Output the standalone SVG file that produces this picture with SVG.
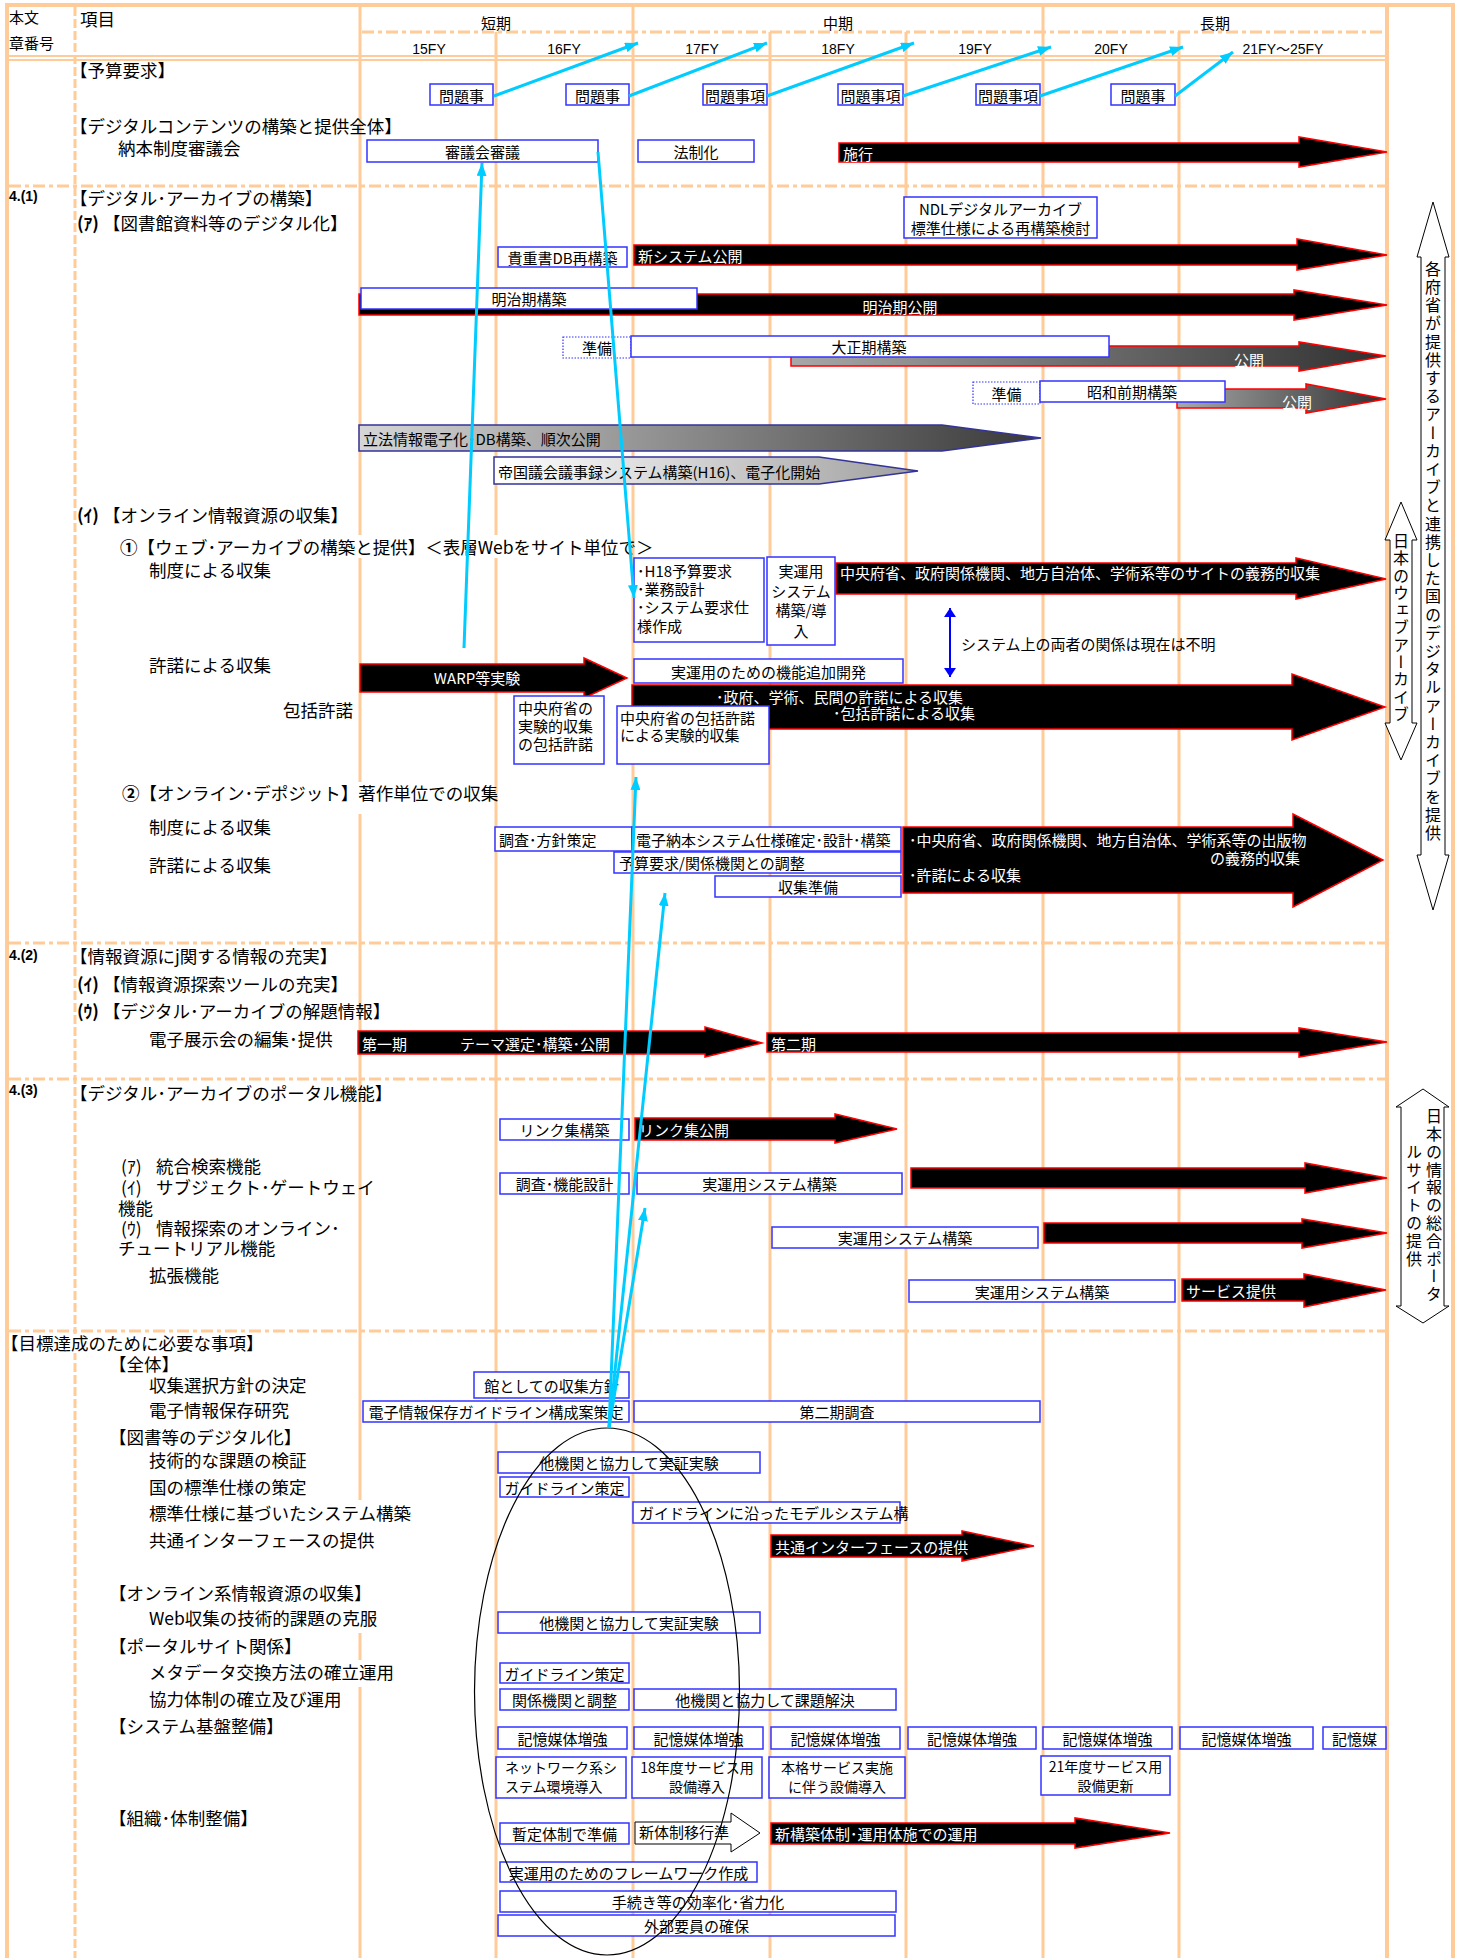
<svg xmlns="http://www.w3.org/2000/svg" width="1461" height="1958" viewBox="0 0 1461 1958">
<defs>
<style>
text{font-family:"Noto Sans CJK JP","Noto Sans",sans-serif;dominant-baseline:central;fill:#000}
.l{font-size:17.5px}
.b{font-size:15px}
.s{font-size:14px}
.w{font-size:15px;fill:#fff}
.c{text-anchor:middle}
.e{text-anchor:end}
.bx{fill:#fff;stroke:#3333ff;stroke-width:1.5}
.bd{fill:#fff;stroke:#3333ff;stroke-width:1.2;stroke-dasharray:1.5 1.5}
.ba{fill:#000;stroke:#ff0000;stroke-width:1.5}
.g{stroke:#ffcc99;stroke-width:3;fill:none}
.gb{stroke:#ffcc99;stroke-width:4;fill:none}
.g2{stroke:#ffcc99;stroke-width:2;fill:none}
.dd{stroke:#ffcc99;stroke-width:3;fill:none;stroke-dasharray:12 4 4 4}
.dv{stroke:#ffcc99;stroke-width:3;fill:none;stroke-dasharray:9 3}
.cy{stroke:#00ccff;stroke-width:3;fill:none;marker-end:url(#ac)}
.va{fill:#fff;stroke:#000;stroke-width:1}
.n{font-family:"Liberation Sans",sans-serif;font-size:14px;font-weight:bold}
.fy{font-family:"Liberation Sans","Noto Sans CJK JP",sans-serif;font-size:14px;text-anchor:middle}
.vt{font-size:16px;writing-mode:vertical-rl;text-anchor:middle}
.wb{fill:#fff;stroke:none}
</style>
<marker id="ac" markerWidth="13" markerHeight="10" refX="13" refY="5" orient="auto" markerUnits="userSpaceOnUse"><path d="M0,0 L13,5 L0,10 z" fill="#00ccff"/></marker>
<marker id="ab" markerWidth="9" markerHeight="12" refX="9" refY="6" orient="auto-start-reverse" markerUnits="userSpaceOnUse"><path d="M0,0 L9,6 L0,12 z" fill="#0000ff"/></marker>
<linearGradient id="gT" x1="0" y1="0" x2="1" y2="0"><stop offset="0" stop-color="#a8a8a8"/><stop offset="1" stop-color="#303030"/></linearGradient>
<linearGradient id="gR" x1="0" y1="0" x2="1" y2="0"><stop offset="0" stop-color="#d6d6d6"/><stop offset="1" stop-color="#383838"/></linearGradient>
<linearGradient id="gK" x1="0" y1="0" x2="1" y2="0"><stop offset="0" stop-color="#ffffff"/><stop offset="1" stop-color="#a0a0a0"/></linearGradient>
</defs>
<rect x="0" y="0" width="1461" height="1958" fill="#fff"/>

<g id="grid">
<line class="gb" x1="5" y1="5" x2="1455" y2="5"/>
<line class="gb" x1="7" y1="3" x2="7" y2="1958"/>
<line class="gb" x1="1387" y1="3" x2="1387" y2="1958"/>
<line class="gb" x1="1453" y1="3" x2="1453" y2="1958"/>
<line class="dv" x1="75" y1="7" x2="75" y2="1958"/>
<line class="g" x1="360" y1="5" x2="360" y2="1958"/>
<line class="g" x1="633" y1="5" x2="633" y2="1958"/>
<line class="g" x1="1043" y1="5" x2="1043" y2="1958"/>
<line class="g" x1="496" y1="32" x2="496" y2="1958"/>
<line class="g" x1="770" y1="32" x2="770" y2="1958"/>
<line class="g" x1="906" y1="32" x2="906" y2="1958"/>
<line class="g" x1="1179" y1="32" x2="1179" y2="1958"/>
<line class="dd" x1="362" y1="32" x2="1385" y2="32"/>
<line class="g2" x1="7" y1="56" x2="1387" y2="56"/>
<line class="g2" x1="7" y1="60" x2="1387" y2="60"/>
<line class="dd" x1="9" y1="186" x2="1385" y2="186"/>
<line class="dd" x1="9" y1="943" x2="1385" y2="943"/>
<line class="dd" x1="9" y1="1079" x2="1385" y2="1079"/>
<line class="dd" x1="9" y1="1331" x2="1385" y2="1331"/>
</g>

<g id="header">
<text class="b" x="9" y="16">本文</text>
<text class="b" x="9" y="42">章番号</text>
<text class="l" x="80" y="18">項目</text>
<text class="b c" x="496" y="22">短期</text>
<text class="b c" x="838" y="22">中期</text>
<text class="b c" x="1215" y="22">長期</text>
<text class="fy" x="429" y="49">15FY</text>
<text class="fy" x="564" y="49">16FY</text>
<text class="fy" x="702" y="49">17FY</text>
<text class="fy" x="838" y="49">18FY</text>
<text class="fy" x="975" y="49">19FY</text>
<text class="fy" x="1111" y="49">20FY</text>
<text class="fy" x="1283" y="49">21FY～25FY</text>
</g>

<g id="labels">
<rect class="wb" x="116" y="535" width="514" height="23"/>
<rect class="wb" x="118" y="782" width="364" height="32"/>
<rect class="wb" x="9" y="1334" width="262" height="19"/>
<rect class="wb" x="145" y="1500" width="275" height="133"/>
<rect class="wb" x="145" y="1660" width="250" height="27"/>
<text class="l" x="70" y="69">【予算要求】</text>
<text class="l" x="70" y="125">【デジタルコンテンツの構築と提供全体】</text>
<text class="l" x="118" y="147">納本制度審議会</text>
<text class="n" x="9" y="196">4.(1)</text>
<text class="l" x="70" y="197">【デジタル･アーカイブの構築】</text>
<text class="l" x="77" y="222"><tspan font-weight="bold">(ｱ)</tspan> 【図書館資料等のデジタル化】</text>
<text class="l" x="77" y="514"><tspan font-weight="bold">(ｲ)</tspan> 【オンライン情報資源の収集】</text>
<text class="l" x="120" y="546"><tspan font-weight="bold">①</tspan>【ウェブ･アーカイブの構築と提供】＜表層Webをサイト単位で＞</text>
<text class="l" x="149" y="569">制度による収集</text>
<text class="l" x="149" y="664">許諾による収集</text>
<text class="l" x="283" y="709">包括許諾</text>
<text class="l" x="122" y="792"><tspan font-weight="bold">②</tspan>【オンライン･デポジット】著作単位での収集</text>
<text class="l" x="149" y="826">制度による収集</text>
<text class="l" x="149" y="864">許諾による収集</text>
<text class="n" x="9" y="955">4.(2)</text>
<text class="l" x="70" y="955">【情報資源にj関する情報の充実】</text>
<text class="l" x="77" y="983"><tspan font-weight="bold">(ｲ)</tspan> 【情報資源探索ツールの充実】</text>
<text class="l" x="77" y="1010"><tspan font-weight="bold">(ｳ)</tspan> 【デジタル･アーカイブの解題情報】</text>
<text class="l" x="149" y="1038">電子展示会の編集･提供</text>
<text class="n" x="9" y="1090">4.(3)</text>
<text class="l" x="70" y="1092">【デジタル･アーカイブのポータル機能】</text>
<text class="l" x="121" y="1165">(ｱ)<tspan x="156">統合検索機能</tspan></text>
<text class="l" x="121" y="1186">(ｲ)<tspan x="156">サブジェクト･ゲートウェイ</tspan></text>
<text class="l" x="118" y="1207">機能</text>
<text class="l" x="121" y="1227">(ｳ)<tspan x="156">情報探索のオンライン･</tspan></text>
<text class="l" x="118" y="1247">チュートリアル機能</text>
<text class="l" x="149" y="1274">拡張機能</text>
<text class="l" x="1" y="1342">【目標達成のために必要な事項】</text>
<text class="l" x="109" y="1363">【全体】</text>
<text class="l" x="149" y="1384">収集選択方針の決定</text>
<text class="l" x="149" y="1409">電子情報保存研究</text>
<text class="l" x="109" y="1436">【図書等のデジタル化】</text>
<text class="l" x="149" y="1459">技術的な課題の検証</text>
<text class="l" x="149" y="1486">国の標準仕様の策定</text>
<text class="l" x="149" y="1512">標準仕様に基づいたシステム構築</text>
<text class="l" x="149" y="1539">共通インターフェースの提供</text>
<text class="l" x="109" y="1592">【オンライン系情報資源の収集】</text>
<text class="l" x="149" y="1617">Web収集の技術的課題の克服</text>
<text class="l" x="109" y="1645">【ポータルサイト関係】</text>
<text class="l" x="149" y="1671">メタデータ交換方法の確立運用</text>
<text class="l" x="149" y="1698">協力体制の確立及び運用</text>
<text class="l" x="109" y="1725">【システム基盤整備】</text>
<text class="l" x="109" y="1817">【組織･体制整備】</text>
</g>

<g id="budget">
<g id="q1"><rect class="bx" x="430" y="84" width="63" height="21"/><text class="b c" x="461.5" y="95">問題事</text></g>
<g id="q2"><rect class="bx" x="566" y="84" width="63" height="21"/><text class="b c" x="597.5" y="95">問題事</text></g>
<g id="q3"><rect class="bx" x="703" y="84" width="64" height="21"/><text class="b c" x="735" y="95">問題事項</text></g>
<g id="q4"><rect class="bx" x="838" y="84" width="65" height="21"/><text class="b c" x="870.5" y="95">問題事項</text></g>
<g id="q5"><rect class="bx" x="976" y="84" width="64" height="21"/><text class="b c" x="1008" y="95">問題事項</text></g>
<g id="q6"><rect class="bx" x="1111" y="84" width="64" height="21"/><text class="b c" x="1143" y="95">問題事</text></g>
</g>

<g id="n-shingikai"><rect class="bx" x="367" y="140" width="231" height="22"/><text class="b c" x="482.5" y="151">審議会審議</text></g>
<g id="n-hoseika"><rect class="bx" x="638" y="140" width="116" height="22"/><text class="b c" x="696" y="151">法制化</text></g>
<g id="n-shiko"><polygon class="ba" points="839,143 1299,143 1299,137 1387,152 1299,167 1299,162 839,162"/><text class="w" x="843" y="153">施行</text></g>

<g id="n-ndl"><rect class="bx" x="904" y="197" width="193" height="41"/><text class="b c" x="1000.5" y="208">NDLデジタルアーカイブ</text><text class="b c" x="1000.5" y="227">標準仕様による再構築検討</text></g>
<g id="n-kichosho"><rect class="bx" x="498" y="247" width="129" height="20"/><text class="b c" x="562.5" y="257">貴重書DB再構築</text></g>
<g id="n-shinsys"><polygon class="ba" points="634,245 1297,245 1297,239 1387,255 1297,270 1297,265 634,265"/><text class="w" x="638" y="255">新システム公開</text></g>
<g id="n-meiji-pub"><polygon class="ba" points="359,294 1294,294 1294,290 1387,305 1294,320 1294,315 359,315"/><text class="w c" x="900" y="306">明治期公開</text></g>
<g id="n-meiji"><rect class="bx" x="361" y="288" width="336" height="21"/><text class="b c" x="529" y="298.5">明治期構築</text></g>
<g id="n-taisho-pub"><polygon points="791,346 1299,346 1299,342 1386,356 1299,371 1299,366 791,366" fill="url(#gT)" stroke="#ff0000" stroke-width="1.5"/><text class="w c" x="1249" y="359">公開</text></g>
<g id="n-junbi1"><rect class="bd" x="563" y="337" width="68" height="21"/><text class="b c" x="597" y="347.5">準備</text></g>
<g id="n-taisho"><rect class="bx" x="631" y="336" width="478" height="21"/><text class="b c" x="869" y="346.5">大正期構築</text></g>
<g id="n-showa-pub"><polygon points="1177,389 1306,389 1306,384 1386,399 1306,413 1306,408 1177,408" fill="url(#gT)" stroke="#ff0000" stroke-width="1.5"/><text class="w c" x="1297" y="401">公開</text></g>
<g id="n-junbi2"><rect class="bd" x="973" y="382" width="67" height="22"/><text class="b c" x="1006.5" y="393">準備</text></g>
<g id="n-showa"><rect class="bx" x="1040" y="381" width="185" height="21"/><text class="b c" x="1132" y="391.5">昭和前期構築</text></g>
<g id="n-rippo"><polygon points="359,425 942,425 1041,438 942,451 359,451" fill="url(#gR)" stroke="#333399" stroke-width="1.5"/><text class="b" x="363" y="438">立法情報電子化･DB構築、順次公開</text></g>
<g id="n-teikoku"><polygon points="494,457 819,457 918,471 819,484 494,484" fill="url(#gK)" stroke="#333399" stroke-width="1.5"/><text class="b" x="498" y="471">帝国議会議事録システム構築(H16)、電子化開始</text></g>

<g id="n-h18"><rect class="bx" x="634" y="558" width="130" height="84"/><text class="b" x="637" y="570">･H18予算要求</text><text class="b" x="637" y="588">･業務設計</text><text class="b" x="637" y="606">･システム要求仕</text><text class="b" x="637" y="625">様作成</text></g>
<g id="n-jitsuyo1"><rect class="bx" x="767" y="557" width="68" height="88"/><text class="b c" x="801" y="570">実運用</text><text class="b c" x="801" y="590">システム</text><text class="b c" x="801" y="609">構築/導</text><text class="b c" x="801" y="630">入</text></g>
<g id="n-gimu"><polygon class="ba" points="836,563 1296,563 1296,558 1386,579 1296,599 1296,594 836,594"/><text class="w" x="840" y="572">中央府省、政府関係機関、地方自治体、学術系等のサイトの義務的収集</text></g>
<g id="n-fumei"><line x1="950" y1="608" x2="950" y2="677" stroke="#0000ff" stroke-width="2" marker-start="url(#ab)" marker-end="url(#ab)"/><text class="b" x="961" y="643">システム上の両者の関係は現在は不明</text></g>
<g id="n-warp"><polygon class="ba" points="360,664 584,664 584,658 627,678 584,698 584,692 360,692"/><text class="w c" x="477" y="677">WARP等実験</text></g>
<g id="n-kino"><rect class="bx" x="634" y="659" width="269" height="24"/><text class="b c" x="768.5" y="671">実運用のための機能追加開発</text></g>
<g id="n-kyodaku"><polygon class="ba" points="632,685 1292,685 1292,674 1385,707 1292,740 1292,729 632,729"/><text class="w" x="716" y="696">･政府、学術、民間の許諾による収集</text><text class="w" x="833" y="712">･包括許諾による収集</text></g>
<g id="n-chuo1"><rect class="bx" x="514" y="696" width="90" height="68"/><text class="b" x="518" y="707">中央府省の</text><text class="b" x="518" y="725">実験的収集</text><text class="b" x="518" y="743">の包括許諾</text></g>
<g id="n-chuo2"><rect class="bx" x="617" y="706" width="152" height="58"/><text class="b" x="620" y="717">中央府省の包括許諾</text><text class="b" x="620" y="734">による実験的収集</text></g>

<g id="n-chosa"><rect class="bx" x="495" y="827" width="137" height="24"/><text class="b" x="499" y="839">調査･方針策定</text></g>
<g id="n-nohon"><rect class="bx" x="632" y="827" width="269" height="24"/><text class="b" x="636" y="839">電子納本システム仕様確定･設計･構築</text></g>
<g id="n-yosan"><rect class="bx" x="614" y="852" width="287" height="21"/><text class="b" x="619" y="862.5">予算要求/関係機関との調整</text></g>
<g id="n-shushu"><rect class="bx" x="715" y="876" width="186" height="21"/><text class="b c" x="808" y="886.5">収集準備</text></g>
<g id="n-shuppan"><polygon class="ba" points="903,827 1293,827 1293,814 1383,860 1293,907 1293,893 903,893"/><text class="w" x="909" y="839">･中央府省、政府関係機関、地方自治体、学術系等の出版物</text><text class="w e" x="1300" y="857">の義務的収集</text><text class="w" x="909" y="874">･許諾による収集</text></g>

<g id="n-daiichi"><polygon class="ba" points="358,1031 705,1031 705,1027 762,1043 705,1057 705,1054 358,1054"/><text class="w" x="362" y="1043">第一期</text><text class="w" x="460" y="1043">テーマ選定･構築･公開</text></g>
<g id="n-daini"><polygon class="ba" points="767,1033 1299,1033 1299,1028 1387,1042 1299,1057 1299,1052 767,1052"/><text class="w" x="771" y="1043">第二期</text></g>

<g id="n-link1"><rect class="bx" x="500" y="1119" width="129" height="21"/><text class="b c" x="564.5" y="1129.5">リンク集構築</text></g>
<g id="n-link2"><polygon class="ba" points="635,1118 835,1118 835,1114 897,1129 835,1143 835,1140 635,1140"/><text class="w" x="639" y="1129">リンク集公開</text></g>
<g id="n-kinosekkei"><rect class="bx" x="500" y="1173" width="129" height="21"/><text class="b c" x="564.5" y="1183.5">調査･機能設計</text></g>
<g id="n-jitsu2"><rect class="bx" x="637" y="1173" width="265" height="21"/><text class="b c" x="769.5" y="1183.5">実運用システム構築</text></g>
<g id="n-ar1"><polygon class="ba" points="911,1168 1305,1168 1305,1163 1387,1178 1305,1193 1305,1188 911,1188"/></g>
<g id="n-jitsu3"><rect class="bx" x="772" y="1227" width="266" height="21"/><text class="b c" x="905" y="1237.5">実運用システム構築</text></g>
<g id="n-ar2"><polygon class="ba" points="1044,1223 1302,1223 1302,1219 1387,1233 1302,1248 1302,1243 1044,1243"/></g>
<g id="n-jitsu4"><rect class="bx" x="909" y="1280" width="266" height="22"/><text class="b c" x="1042" y="1291">実運用システム構築</text></g>
<g id="n-service"><polygon class="ba" points="1182,1279 1304,1279 1304,1274 1386,1290 1304,1307 1304,1301 1182,1301"/><text class="w" x="1186" y="1290">サービス提供</text></g>

<g id="n-hoshin"><rect class="bx" x="474" y="1372" width="155" height="26"/><text class="b c" x="551.5" y="1385">館としての収集方針</text></g>
<g id="n-guide0"><rect class="bx" x="363" y="1401" width="266" height="21"/><text class="b c" x="496" y="1411.5">電子情報保存ガイドライン構成案策定</text></g>
<g id="n-dainichosa"><rect class="bx" x="634" y="1401" width="406" height="21"/><text class="b c" x="837" y="1411.5">第二期調査</text></g>
<g id="n-jissho1"><rect class="bx" x="498" y="1452" width="262" height="21"/><text class="b c" x="629" y="1462.5">他機関と協力して実証実験</text></g>
<g id="n-guide1"><rect class="bx" x="500" y="1477" width="129" height="20"/><text class="b c" x="564.5" y="1487">ガイドライン策定</text></g>
<g id="n-model"><rect class="bx" x="633" y="1502" width="267" height="21"/><text class="b" x="639" y="1512.5">ガイドラインに沿ったモデルシステム構</text></g>
<g id="n-kyotsu"><polygon class="ba" points="771,1535 962,1535 962,1531 1034,1546 962,1561 962,1557 771,1557"/><text class="w" x="775" y="1546">共通インターフェースの提供</text></g>
<g id="n-jissho2"><rect class="bx" x="498" y="1612" width="262" height="21"/><text class="b c" x="629" y="1622.5">他機関と協力して実証実験</text></g>
<g id="n-guide2"><rect class="bx" x="500" y="1663" width="129" height="20"/><text class="b c" x="564.5" y="1673">ガイドライン策定</text></g>
<g id="n-chosei"><rect class="bx" x="500" y="1689" width="129" height="21"/><text class="b c" x="564.5" y="1699.5">関係機関と調整</text></g>
<g id="n-kadai"><rect class="bx" x="634" y="1689" width="262" height="21"/><text class="b c" x="765" y="1699.5">他機関と協力して課題解決</text></g>
<g id="n-kioku">
<rect class="bx" x="498" y="1727" width="129" height="22"/><text class="b c" x="562.5" y="1738">記憶媒体増強</text>
<rect class="bx" x="634" y="1727" width="129" height="22"/><text class="b c" x="698.5" y="1738">記憶媒体増強</text>
<rect class="bx" x="771" y="1727" width="129" height="22"/><text class="b c" x="835.5" y="1738">記憶媒体増強</text>
<rect class="bx" x="908" y="1727" width="128" height="22"/><text class="b c" x="972" y="1738">記憶媒体増強</text>
<rect class="bx" x="1043" y="1727" width="129" height="22"/><text class="b c" x="1107.5" y="1738">記憶媒体増強</text>
<rect class="bx" x="1180" y="1727" width="133" height="22"/><text class="b c" x="1246.5" y="1738">記憶媒体増強</text>
<rect class="bx" x="1323" y="1727" width="63" height="22"/><text class="b c" x="1354.5" y="1738">記憶媒</text>
</g>
<g id="n-network"><rect class="bx" x="496" y="1757" width="130" height="41"/><text class="s" x="505" y="1767">ネットワーク系シ</text><text class="s" x="505" y="1786">ステム環境導入</text></g>
<g id="n-18"><rect class="bx" x="632" y="1757" width="130" height="41"/><text class="s c" x="697" y="1767">18年度サービス用</text><text class="s c" x="697" y="1786">設備導入</text></g>
<g id="n-honkaku"><rect class="bx" x="769" y="1757" width="136" height="41"/><text class="s c" x="837" y="1767">本格サービス実施</text><text class="s c" x="837" y="1786">に伴う設備導入</text></g>
<g id="n-21"><rect class="bx" x="1041" y="1756" width="129" height="39"/><text class="s c" x="1105.5" y="1766">21年度サービス用</text><text class="s c" x="1105.5" y="1785">設備更新</text></g>
<g id="n-zantei"><rect class="bx" x="500" y="1823" width="129" height="21"/><text class="b c" x="564.5" y="1833.5">暫定体制で準備</text></g>
<g id="n-iko"><polygon class="va" points="635,1822 731,1822 731,1813 760,1833 731,1852 731,1844 635,1844"/><text class="b" x="639" y="1831">新体制移行準</text></g>
<g id="n-shinkochiku"><polygon class="ba" points="771,1823 1075,1823 1075,1818 1170,1833 1075,1848 1075,1844 771,1844"/><text class="w" x="775" y="1833">新構築体制･運用体施での運用</text></g>
<g id="n-framework"><rect class="bx" x="500" y="1862" width="257" height="20"/><text class="b c" x="628.5" y="1872">実運用のためのフレームワーク作成</text></g>
<g id="n-koritsu"><rect class="bx" x="500" y="1891" width="396" height="21"/><text class="b c" x="698" y="1901.5">手続き等の効率化･省力化</text></g>
<g id="n-gaibu"><rect class="bx" x="498" y="1915" width="397" height="21"/><text class="b c" x="696.5" y="1925.5">外部要員の確保</text></g>

<g id="n-right">
<polygon class="va" points="1433,202 1449,257 1445,257 1445,855 1449,855 1433,910 1417,855 1421,855 1421,257 1417,257"/>
<text class="vt" x="1433" y="552" style="letter-spacing:2.2px">各府省が提供するアーカイブと連携した国のデジタルアーカイブを提供</text>
<polygon class="va" points="1401,502 1417,540 1412,540 1412,723 1417,723 1401,760 1385,723 1390,723 1390,540 1385,540"/>
<text class="vt" x="1401" y="628" style="letter-spacing:1.3px">日本のウェブアーカイブ</text>
<polygon class="va" points="1423,1089 1449,1107 1444,1107 1444,1306 1449,1306 1423,1323 1396,1306 1401,1306 1401,1107 1396,1107"/>
<text class="vt" x="1434" y="1206" style="letter-spacing:1.8px">日本の情報の総合ポータ</text>
<text class="vt" x="1414" y="1206" style="letter-spacing:1.8px">ルサイトの提供</text>
</g>

<g id="ellipse"><ellipse cx="607" cy="1691.5" rx="132.5" ry="263.5" fill="none" stroke="#000" stroke-width="1.2"/></g>

<g id="connectors">
<line class="cy" x1="494" y1="96" x2="638" y2="43"/>
<line class="cy" x1="629" y1="96" x2="767" y2="43"/>
<line class="cy" x1="767" y1="96" x2="914" y2="43"/>
<line class="cy" x1="903" y1="96" x2="1051" y2="47"/>
<line class="cy" x1="1040" y1="96" x2="1183" y2="47"/>
<line class="cy" x1="1175" y1="96" x2="1233" y2="52"/>
<line class="cy" x1="464" y1="648" x2="482" y2="163"/>
<line class="cy" x1="598" y1="152" x2="634" y2="598"/>
<line class="cy" x1="609" y1="1428" x2="636" y2="777"/>
<line class="cy" x1="609" y1="1428" x2="665" y2="893"/>
<line class="cy" x1="609" y1="1428" x2="645" y2="1208"/>
</g>
</svg>
